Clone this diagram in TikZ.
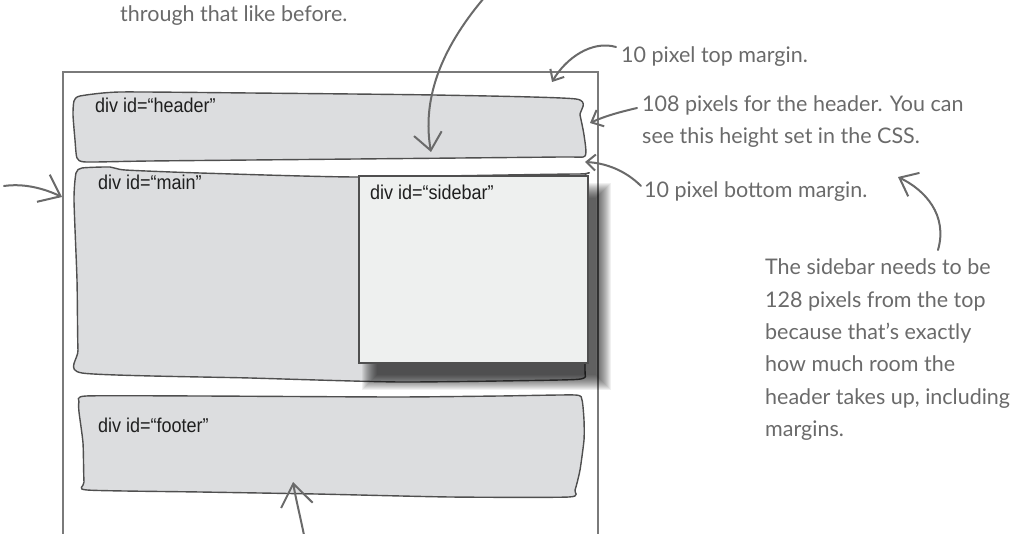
\documentclass[tikz,border=0pt]{standalone}
\usepackage{fontspec}
\setmainfont{Lato}
\newfontfamily\divfont[FakeStretch=0.9]{Liberation Sans}
\usetikzlibrary{arrows.meta}
\definecolor{blobfill}{HTML}{DCDDDF}
\definecolor{blobline}{HTML}{4F4F4F}
\definecolor{notegray}{HTML}{6A6A6A}
\definecolor{outerline}{HTML}{7A7A7A}
\definecolor{sbfill}{HTML}{EEF0EF}
\begin{document}
\begin{tikzpicture}[x=1pt,y=-1pt,
  blob/.style={draw=blobline, fill=blobfill, line width=1.4pt, line join=round},
  note/.style={text=notegray, font=\fontsize{21.5}{32}\selectfont, inner sep=0pt, anchor=base west},
  divlabel/.style={text=black!88, font=\divfont\fontsize{20}{24}\selectfont, inner sep=0pt, anchor=base west},
  pointer/.style={draw=notegray, line width=2pt, line cap=round, line join=round},
  sidebox/.style={draw=blobline, fill=sbfill, line width=2pt, inner sep=0pt, minimum width=229pt, minimum height=187pt, anchor=north west},
]
\useasboundingbox (0,0) rectangle (1020,534);

% page outline
\draw[outerline, line width=1.6pt] (63,545) -- (63,72) -- (598,72) -- (598,545);

% header
\draw[blob] plot[smooth cycle, tension=0.35] coordinates {(74,101) (80,96) (120,92) (250,93) (434,95) (576,99) (580,115) (584,135) (585,156) (560,157) (356,159) (150,161) (86,162) (77,158) (75,140) (73,115)};
\node[divlabel] (hdr) at (95,113) {div id=“header”};

% main
\draw[blob] plot[smooth cycle, tension=0.35] coordinates {(76,173) (82,168) (110,167) (125,170) (200,173) (356,177) (577,174) (585,177) (585,250) (585,367) (584,378) (560,380) (400,382) (250,378) (82,373) (78,350) (77,280) (74,200)};
\node[divlabel] (mainl) at (98,190) {div id=“main”};

% footer
\draw[blob] plot[smooth cycle, tension=0.35] coordinates {(79,402) (86,396) (200,396) (395,397) (500,396) (575,395) (582,400) (584,420) (584,440) (580,470) (575,490) (569,497) (450,497) (316,494) (200,492) (87,490) (84,482) (83,443) (79,412)};
\node[divlabel] (ftr) at (98,432) {div id=“footer”};

% sidebar shadow (soft)
\foreach \i in {0,...,15}{
  \fill[black, opacity=0.06] (362+\i,183+\i) rectangle (611-\i,390-\i);
}
\node[sidebox] (sb) at (358,175) {};
\node[divlabel] (sbl) at (370,200) {div id=“sidebar”};

% annotations
\node[note] (t0) at (120,22) {through that like before.};
\node[note] (t1) at (621,63) {10 pixel top margin.};
\node[note] (t2) at (642,112) {108 pixels for the header. You can};
\node[note] (t2b) at (642,144) {see this height set in the CSS.};
\node[note] (t3) at (644,198) {10 pixel bottom margin.};
\foreach \t [count=\i] in {The sidebar needs to be,128 pixels from the top,because that’s exactly,how much room the,{header takes up, including},margins.}{
  \node[note] (s\i) at (765,{275+32.3*(\i-1)}) {\t};
}

% connector end points
\coordinate (topS) at (484,-2);
\coordinate (topE) at (431,152);
\coordinate (tmS) at (616,47);
\coordinate (tmE) at (552,82);
\coordinate (hS) at (637,108);
\coordinate (hE) at (590,123);
\coordinate (bmS) at (641,186);
\coordinate (bmE) at (585,162);
\coordinate (sS) at (938,250);
\coordinate (sE) at (898,177);
\coordinate (lS) at (4,186);
\coordinate (lE) at (62,197);
\coordinate (fS) at (305,540);
\coordinate (fE) at (293,482);

\draw[pointer, -{Straight Barb[length=17pt,width=28pt]}] (topS) .. controls (440,50) and (422,100) .. (topE);
\draw[pointer, -{Straight Barb[length=9pt,width=16pt]}] (tmS) .. controls (592,40) and (566,58) .. (tmE);
\draw[pointer, -{Straight Barb[length=10pt,width=18pt]}] (hS) .. controls (620,112) and (605,116) .. (hE);
\draw[pointer, -{Straight Barb[length=9pt,width=16pt]}] (bmS) .. controls (625,170) and (605,163) .. (bmE);
\draw[pointer, -{Straight Barb[length=16pt,width=26pt]}] (sS) .. controls (948,215) and (925,190) .. (sE);
\draw[pointer, -{Straight Barb[length=19pt,width=30pt]}] (lS) .. controls (25,183) and (45,189) .. (lE);
\draw[pointer, -{Straight Barb[length=22pt,width=32pt]}] (fS) .. controls (300,515) and (296,500) .. (fE);
\end{tikzpicture}
\end{document}
